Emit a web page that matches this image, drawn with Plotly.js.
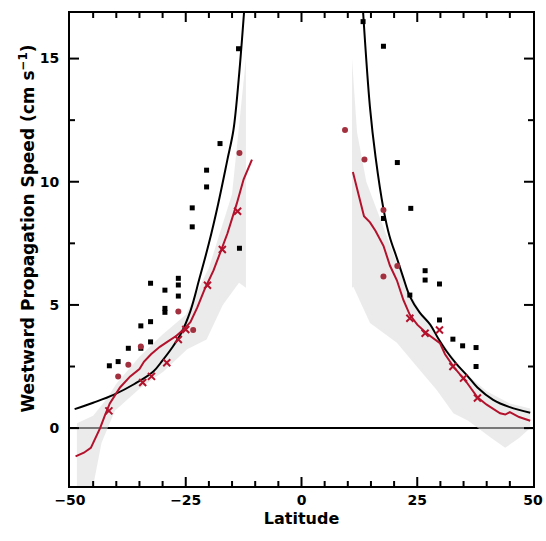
<!DOCTYPE html>
<html><head><meta charset="utf-8">
<script src="https://cdn.plot.ly/plotly-3.0.1.min.js"></script>
<style>html,body{margin:0;padding:0;background:#fff}#chart{width:546px;height:541px}</style>
</head><body><div id="chart"></div>
<script>
// Theory curve (black), southern and northern branches
const theoryLatS = [-49,-45,-40.6,-36,-32,-30,-28,-26,-24,-22,-20,-18,-16,-14.7,-13.5,-12.4];
const theoryValS = [0.77,1.03,1.35,1.8,2.3,2.75,3.25,3.85,4.75,6.1,7.5,9.1,10.9,12.1,14.3,16.9];
const theoryLatN = [13.3,14.8,16,17.7,19,20.6,22,23.4,25.5,27.8,29.5,31.4,33.5,35.7,38,41.4,45,49.4];
const theoryValN = [16.9,13.0,11.0,8.9,7.8,6.9,6.1,5.35,4.7,4.2,3.65,3.1,2.6,2.15,1.65,1.15,0.85,0.62];

// Observed speed (red line)
const obsLatS = [-48.8,-47,-45.5,-44.5,-43.5,-42.5,-41.4,-39.2,-37,-35,-34,-32.5,-30.6,-29,-27,-25.5,-24,-22.5,-21,-19,-17.6,-16,-14,-12.5,-10.7];
const obsValS = [-1.15,-1.0,-0.8,-0.4,0,0.5,1.0,1.65,2.1,2.4,2.7,3.0,3.3,3.5,3.75,4.0,4.3,4.9,5.6,6.4,7.1,7.9,9.1,10.1,10.9];
const obsLatN = [11.1,12.6,13.5,14.8,16,17.7,19.1,20.6,22,23.4,25,27,29.9,31,32.8,35.7,38,40,42.9,44,45,47,49.4];
const obsValN = [10.4,9.2,8.6,8.35,8.0,7.4,6.6,6.0,5.2,4.6,4.2,3.85,3.45,3.0,2.5,1.85,1.25,0.95,0.6,0.55,0.65,0.45,0.3];

// Grey range envelope
const bandLatS = [-48.5,-45,-42,-40,-35,-30,-25,-20,-15,-13,-12,-12,-13.5,-17,-20.5,-24.7,-29.8,-35,-40.3,-43.2,-45,-48.5];
const bandValS = [0.2,0.5,1.2,1.8,2.9,3.8,4.6,6.5,9.5,13,15,5.7,5.9,5.0,3.6,3.2,2.3,1.6,0.7,-0.6,-2.35,-2.35];
const bandLatN = [10.9,12,14,18,22,26,30,35,40,45,49.4,49.4,47,44,41,36,32.8,29.2,24.9,20.6,14.8,11.2,10.9];
const bandValN = [15,12,10,8,6,4.6,3.6,2.3,1.5,1.0,0.8,0.0,-0.4,-0.8,-0.4,0.3,0.6,1.55,2.5,3.46,4.27,5.74,5.7];

// Individual estimates
const blackLat = [-41.5,-39.6,-37.4,-34.7,-34.7,-32.6,-32.6,-32.6,-29.5,-29.5,-29.5,-26.6,-26.6,-26.6,-23.6,-23.6,-20.5,-20.5,-17.6,-13.4,-13.6,
                  13.3,17.7,20.7,23.6,17.7,26.7,26.7,29.8,23.4,29.8,32.7,34.8,37.7,37.7];
const blackVal = [2.53,2.70,3.24,4.15,3.24,4.32,5.88,3.5,5.6,4.86,4.7,6.08,5.81,5.36,8.94,8.17,10.47,9.79,11.55,7.3,15.4,
                  16.5,15.5,10.78,8.92,8.51,6.39,6.01,5.85,5.4,4.39,3.61,3.34,3.27,2.5];
const redDotLat = [-39.6,-37.4,-34.7,-26.6,-23.4,-13.4, 9.4,13.6,17.7,20.7,17.7];
const redDotVal = [2.09,2.57,3.31,4.73,3.98,11.17, 12.1,10.9,8.85,6.58,6.15];
const crossLat = [-41.6,-34.3,-32.4,-29.1,-26.6,-25,-20.3,-17.1,-13.8, 23.4,26.7,29.8,32.7,35,38];
const crossVal = [0.7,1.85,2.1,2.65,3.6,4.0,5.8,7.25,8.8, 4.46,3.85,3.98,2.5,2.03,1.22];

// Axis ticks
const xMajor = [-25,0,25];
const xMinor = [-45,-40,-35,-30,-20,-15,-10,-5,5,10,15,20,30,35,40,45];
const yMajor = [0,5,10,15];
const yMinor = [2.5,7.5,12.5];

const XR = [-50,50], YR = [-2.35,16.85];
const W = 546, H = 541, M = {l:70, r:13, t:13, b:55};
const plotW = W - M.l - M.r, plotH = H - M.t - M.b;
const dx = (XR[1]-XR[0]) / plotW, dy = (YR[1]-YR[0]) / plotH;

// Inside tick marks on all four sides, as one line trace
const tickX = [], tickY = [];
function xTick(v, len){
  tickX.push(v, v, null, v, v, null);
  tickY.push(YR[0], YR[0] + len*dy, null, YR[1], YR[1] - len*dy, null);
}
function yTick(v, len){
  tickX.push(XR[0], XR[0] + len*dx, null, XR[1], XR[1] - len*dx, null);
  tickY.push(v, v, null, v, v, null);
}
xMajor.forEach(v => xTick(v, 9));
xMinor.forEach(v => xTick(v, 5));
yMajor.forEach(v => yTick(v, 9));
yMinor.forEach(v => yTick(v, 5));

const RED = '#b3122c';
const BAND = 'rgba(218,218,218,0.55)';
const traces = [
  {x: bandLatS, y: bandValS, type:'scatter', mode:'lines', fill:'toself', fillcolor:BAND, line:{width:0}, hoverinfo:'skip'},
  {x: bandLatN, y: bandValN, type:'scatter', mode:'lines', fill:'toself', fillcolor:BAND, line:{width:0}, hoverinfo:'skip'},
  {x: theoryLatS, y: theoryValS, type:'scatter', mode:'lines', line:{color:'#000', width:2, shape:'spline'}},
  {x: theoryLatN, y: theoryValN, type:'scatter', mode:'lines', line:{color:'#000', width:2, shape:'spline'}},
  {x: obsLatS, y: obsValS, type:'scatter', mode:'lines', line:{color:RED, width:2}},
  {x: obsLatN, y: obsValN, type:'scatter', mode:'lines', line:{color:RED, width:2}},
  {x: blackLat, y: blackVal, type:'scatter', mode:'markers', marker:{color:'#000', size:5, symbol:'square'}},
  {x: redDotLat, y: redDotVal, type:'scatter', mode:'markers', marker:{color:'#a3303e', size:6, symbol:'circle'}},
  {x: crossLat, y: crossVal, type:'scatter', mode:'markers', marker:{color:RED, size:7, symbol:'x-thin', line:{color:RED, width:2}}},
  {x: tickX, y: tickY, type:'scatter', mode:'lines', line:{color:'#000', width:2}, connectgaps:false, hoverinfo:'skip'}
];

const FAM = 'DejaVu Sans, Liberation Sans, Arial, sans-serif';
const layout = {
  width:W, height:H, showlegend:false,
  paper_bgcolor:'#fff', plot_bgcolor:'#fff',
  margin:M,
  font:{family:FAM, size:14, color:'#000'},
  xaxis:{range:XR, tickmode:'linear', tick0:0, dtick:25, ticks:'', showgrid:false, zeroline:false,
         showline:true, linecolor:'#000', linewidth:2, mirror:true,
         tickfont:{family:FAM, size:14, color:'#000', weight:'bold'},
         title:{text:'Latitude', font:{family:FAM, size:16, color:'#000', weight:'bold'}, standoff:6}},
  yaxis:{range:YR, tickmode:'linear', tick0:0, dtick:5, ticks:'', showgrid:false,
         zeroline:true, zerolinecolor:'#000', zerolinewidth:2,
         showline:true, linecolor:'#000', linewidth:2, mirror:true, ticklabelstandoff:6,
         tickfont:{family:FAM, size:14, color:'#000', weight:'bold'}},
  annotations:[{text:'Westward Propagation Speed (cm s<sup>\u22121</sup>)', textangle:-90,
                xref:'paper', yref:'paper', x:-0.092, y:0.545, xanchor:'center', yanchor:'middle', showarrow:false,
                font:{family:FAM, size:17, color:'#000', weight:'bold'}}]
};
Plotly.newPlot('chart', traces, layout, {staticPlot:true});
</script></body></html>
